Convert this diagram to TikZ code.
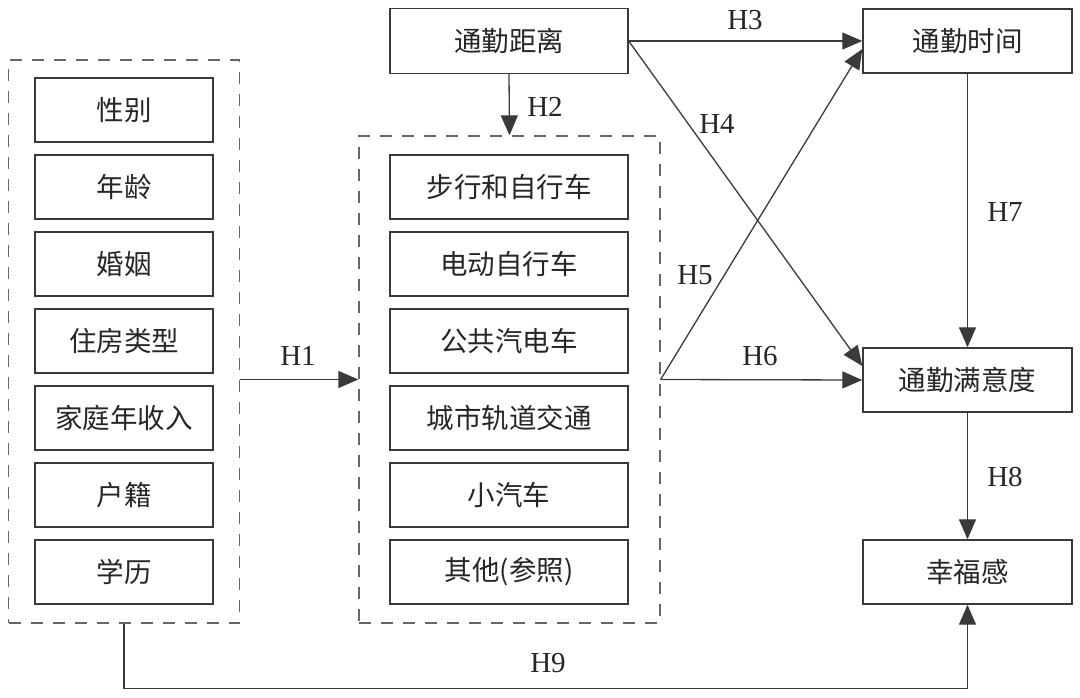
\documentclass[tikz,border=0pt]{standalone}
\usepackage{fontspec}
\setmainfont{Liberation Serif}
\newfontfamily\cjk{Noto Sans CJK SC}[Scale=1]
\usetikzlibrary{arrows.meta,calc}
\definecolor{ln}{HTML}{3A3A3A}
\definecolor{dl}{HTML}{666666}
\tikzset{
  box/.style={draw=ln,line width=1.4pt,rectangle,inner sep=0pt,minimum width=178pt,minimum height=64pt,font=\cjk\fontsize{27.5}{30}\selectfont,text=black!85},
  mbox/.style={box,minimum width=238pt},
  rbox/.style={box,minimum width=209pt},
  dbox/.style={draw=dl,line width=1.3pt,dash pattern=on 12pt off 10pt,rectangle,inner sep=0pt},
  conn/.style={draw=ln,line width=1.3pt,-{Triangle[length=20pt,width=17pt]}},
  lab/.style={font=\fontsize{29}{30}\selectfont,text=black!85,inner sep=0pt}
}
\begin{document}
\begin{tikzpicture}[x=1pt,y=-1pt]
\useasboundingbox (0,0) rectangle (1080,698);
% left dashed group
\node[dbox,minimum width=231pt,minimum height=563pt] (left) at (124,341.5) {};
\node[box] (b1) at (124,110) {性别};
\node[box] (b2) at (124,187) {年龄};
\node[box] (b3) at (124,264) {婚姻};
\node[box] (b4) at (124,341) {住房类型};
\node[box] (b5) at (124,418) {家庭年收入};
\node[box] (b6) at (124,495) {户籍};
\node[box] (b7) at (124,572) {学历};
% middle dashed group
\node[dbox,minimum width=301pt,minimum height=487pt] (mid) at (509.5,379.5) {};
\node[mbox] (m1) at (509,187) {步行和自行车};
\node[mbox] (m2) at (509,264) {电动自行车};
\node[mbox] (m3) at (509,341) {公共汽电车};
\node[mbox] (m4) at (509,418) {城市轨道交通};
\node[mbox] (m5) at (509,495) {小汽车};
\node[mbox] (m6) at (509,572) {其他(参照)};
% top and right
\node[mbox,minimum height=65pt] (dist) at (509,41) {通勤距离};
\node[rbox] (time) at (967.5,41) {通勤时间};
\node[rbox] (sat) at (967.5,380) {通勤满意度};
\node[rbox] (hap) at (967.5,572) {幸福感};
\coordinate (h1s) at (left.east |- mid.east);
\coordinate (h9a) at ($(left.south)+(0,65)$);
% connectors
\draw[conn] (h1s) -- (mid.west);
\draw[conn] (dist.south) -- (mid.north);
\draw[conn] (dist.east) -- (time.west);
\draw[conn] (dist.east) -- ($(sat.west)+(0,-14)$);
\draw[conn] (mid.east) -- ($(time.west)+(0,8)$);
\draw[conn] (mid.east) -- (sat.west);
\draw[conn] (time.south) -- (sat.north);
\draw[conn] (sat.south) -- (hap.north);
\draw[conn] (left.south) -- (h9a) -| (hap.south);
% labels
\node[lab] (l1) at (298,356) {H1};
\node[lab] (l2) at (545,107) {H2};
\node[lab] (l3) at (745,20) {H3};
\node[lab] (l4) at (717,124) {H4};
\node[lab] (l5) at (695,275) {H5};
\node[lab] (l6) at (760,356) {H6};
\node[lab] (l7) at (1005,212) {H7};
\node[lab] (l8) at (1005,477) {H8};
\node[lab] (l9) at (548,663) {H9};
\end{tikzpicture}
\end{document}
